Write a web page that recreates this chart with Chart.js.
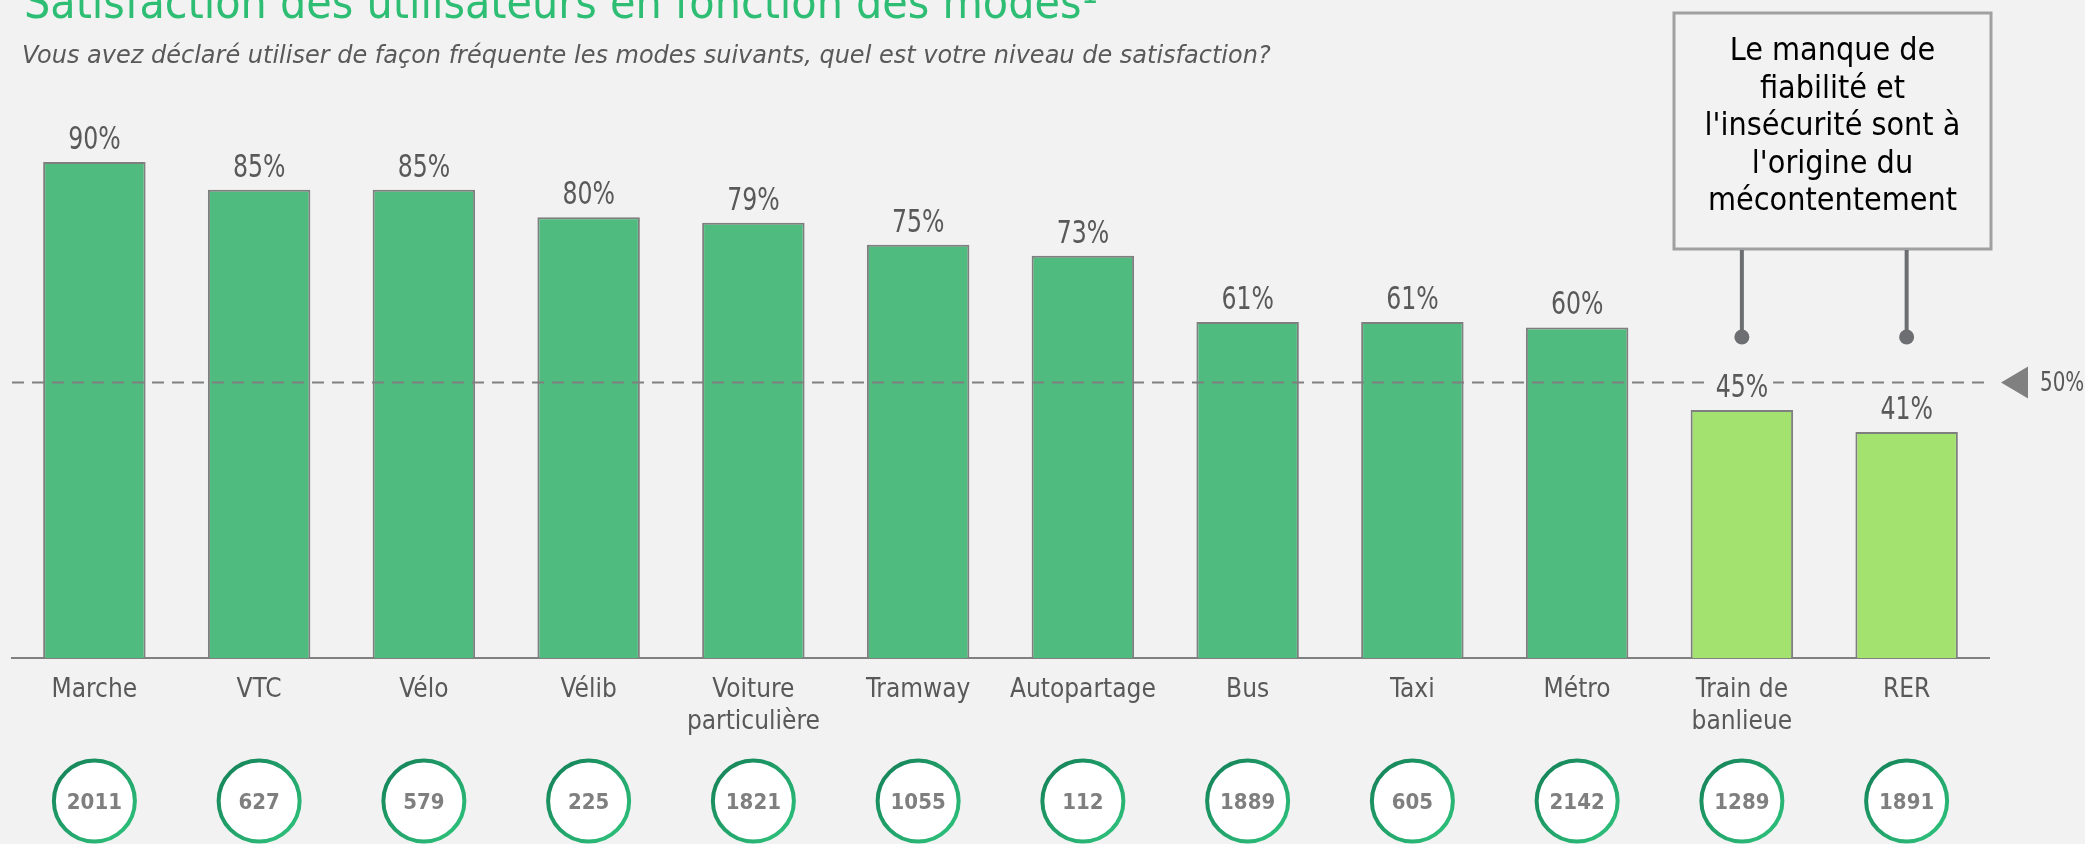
<!DOCTYPE html>
<html>
<head>
<meta charset="utf-8">
<script src="https://cdn.jsdelivr.net/npm/chart.js@4.4.1/dist/chart.umd.min.js"></script>
<style>
  html, body { margin: 0; padding: 0; background: #f2f2f2; overflow: hidden; }
  #wrap { position: relative; width: 2085px; height: 844px; }
  canvas { display: block; }
</style>
</head>
<body>
<div id="wrap"><canvas id="c" width="2085" height="844"></canvas></div>
<script>
// ---- data ----
const categories = ['Marche', 'VTC', 'Vélo', 'Vélib', ['Voiture', 'particulière'], 'Tramway', 'Autopartage', 'Bus', 'Taxi', 'Métro', ['Train de', 'banlieue'], 'RER'];
const satisfaction = [90, 85, 85, 80, 79, 75, 73, 61, 61, 60, 45, 41];
const respondents = [2011, 627, 579, 225, 1821, 1055, 112, 1889, 605, 2142, 1289, 1891];
const threshold = 50;
const titleText = 'Satisfaction des utilisateurs en fonction des modes¹';
const subtitleText = 'Vous avez déclaré utiliser de façon fréquente les modes suivants, quel est votre niveau de satisfaction?';
const calloutLines = ['Le manque de', 'fiabilité et', "l'insécurité sont à", "l'origine du", 'mécontentement'];
const calloutTargets = ['Train de banlieue', 'RER'];

// ---- styles ----
const BG = '#f2f2f2';
const COND = "'DejaVu Sans Condensed', 'DejaVu Sans', sans-serif";
const WIDE = "'DejaVu Sans', sans-serif";
const GREEN = '#4fbb7f';
const LIGHT = '#a3e26f';

const catNames = categories.map(c => Array.isArray(c) ? c.join(' ') : c);

// narrow font detection (fallback: horizontally compressed condensed face)
const probe = document.createElement('canvas').getContext('2d');
probe.font = "32px 'Liberation Sans Narrow', monospace";
const wN = probe.measureText('79%').width;
probe.font = '32px monospace';
const wM = probe.measureText('79%').width;
const hasNarrow = Math.abs(wN - wM) > 0.5;
const NARROW = hasNarrow ? "'Liberation Sans Narrow', sans-serif" : COND;
const NARROW_SCALE = hasNarrow ? 0.97 : 0.82;

function narrowText(c, txt, x, y, size, align, baseline) {
  c.save();
  c.font = size + 'px ' + NARROW;
  c.textAlign = align;
  c.textBaseline = baseline;
  c.translate(x, y);
  c.scale(NARROW_SCALE, 1);
  c.fillText(txt, 0, 0);
  c.restore();
}

const deco = {
  id: 'deco',
  beforeDraw(chart) {
    const c = chart.ctx;
    c.save();
    c.fillStyle = BG;
    c.fillRect(0, 0, chart.width, chart.height);
    c.textAlign = 'left';
    c.textBaseline = 'alphabetic';
    c.fillStyle = '#2dbe74';
    c.font = '46px ' + COND;
    c.fillText(titleText, 24, 18);
    c.fillStyle = '#595959';
    c.font = 'italic 24px ' + WIDE;
    c.fillText(subtitleText, 22, 63);
    c.restore();
  },
  afterDatasetsDraw(chart) {
    const c = chart.ctx, ys = chart.scales.y, a = chart.chartArea;
    const ly = ys.getPixelForValue(threshold);
    c.save();
    // threshold line
    c.strokeStyle = '#808080';
    c.lineWidth = 2;
    c.setLineDash([12, 8]);
    c.beginPath(); c.moveTo(a.left, ly); c.lineTo(a.right, ly); c.stroke();
    c.setLineDash([]);
    // marker
    c.fillStyle = '#808080';
    c.beginPath();
    c.moveTo(a.right + 12, ly);
    c.lineTo(a.right + 39, ly - 16);
    c.lineTo(a.right + 39, ly + 16);
    c.closePath(); c.fill();
    c.fillStyle = '#595959';
    narrowText(c, threshold + '%', a.right + 51, ly + 1, 27, 'left', 'middle');
    // value labels
    const meta = chart.getDatasetMeta(0);
    meta.data.forEach((bar, i) => {
      const t = satisfaction[i] + '%';
      c.font = '32px ' + NARROW;
      const w = c.measureText(t).width * NARROW_SCALE;
      const by = bar.y - 13;
      c.fillStyle = BG;
      c.fillRect(bar.x - w / 2 - 5, by - 27, w + 10, 30);
      c.fillStyle = '#595959';
      narrowText(c, t, bar.x, by, 32, 'center', 'alphabetic');
    });
    c.restore();
  },
  afterDraw(chart) {
    const c = chart.ctx, xs = chart.scales.x, a = chart.chartArea;
    c.save();
    // respondent circles
    const cy = a.bottom + 143, r = 40.5;
    respondents.forEach((n, i) => {
      const cx = xs.getPixelForValue(i);
      const g = c.createLinearGradient(cx - r, cy - r, cx + r, cy + r);
      g.addColorStop(0, '#147f57');
      g.addColorStop(1, '#2fc57d');
      c.beginPath(); c.arc(cx, cy, r, 0, Math.PI * 2);
      c.fillStyle = '#ffffff'; c.fill();
      c.lineWidth = 4; c.strokeStyle = g; c.stroke();
      c.fillStyle = '#7f7f7f';
      c.font = 'bold 22px ' + COND;
      c.textAlign = 'center';
      c.textBaseline = 'middle';
      c.fillText(String(n), cx, cy + 2);
    });
    // callout box
    const bx = a.right - 315, by = 13, bw = 317, bh = 236;
    c.fillStyle = BG;
    c.fillRect(bx, by, bw, bh);
    c.strokeStyle = '#a0a0a0';
    c.lineWidth = 3;
    c.strokeRect(bx, by, bw, bh);
    c.fillStyle = '#000000';
    c.font = '32px ' + COND;
    c.textAlign = 'center';
    c.textBaseline = 'alphabetic';
    calloutLines.forEach((l, k) => c.fillText(l, bx + bw / 2, by + 47 + k * 37.5));
    // connectors
    c.strokeStyle = '#6d6e71';
    c.fillStyle = '#6d6e71';
    c.lineWidth = 4;
    calloutTargets.forEach(name => {
      const px = xs.getPixelForValue(catNames.indexOf(name));
      c.beginPath(); c.moveTo(px, by + bh + 1); c.lineTo(px, 337); c.stroke();
      c.beginPath(); c.arc(px, 337, 7.5, 0, Math.PI * 2); c.fill();
    });
    c.restore();
  }
};

new Chart(document.getElementById('c'), {
  type: 'bar',
  data: {
    labels: categories,
    datasets: [{
      data: satisfaction,
      backgroundColor: satisfaction.map(v => v < threshold ? LIGHT : GREEN),
      borderColor: '#7f7f7f',
      borderWidth: 2,
      barPercentage: 0.622,
      categoryPercentage: 1
    }]
  },
  options: {
    responsive: false,
    animation: false,
    devicePixelRatio: 1,
    events: [],
    layout: { padding: { left: 12, right: 96, top: 107, bottom: 0 } },
    plugins: { legend: { display: false }, tooltip: { enabled: false }, title: { display: false } },
    scales: {
      y: { display: false, min: 0, max: 100 },
      x: {
        grid: { display: false, drawTicks: false },
        border: { display: true, color: '#808080', width: 2 },
        ticks: {
          autoSkip: false, maxRotation: 0, minRotation: 0,
          padding: 16,
          color: '#595959',
          font: { family: COND, size: 26, lineHeight: 1.23 }
        },
        afterFit(s) { s.height = 186; }
      }
    }
  },
  plugins: [deco]
});
</script>
</body>
</html>
